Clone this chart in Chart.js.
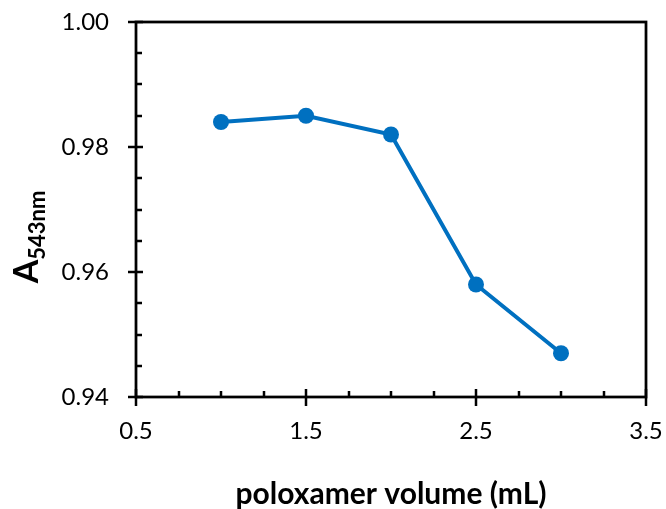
<!DOCTYPE html>
<html>
<head>
<meta charset="utf-8">
<script src="https://cdn.jsdelivr.net/npm/chart.js@4/dist/chart.umd.min.js"></script>
<style>
  html, body { margin: 0; padding: 0; background: #fff; }
  #wrap { width: 666px; height: 509px; }
</style>
</head>
<body>
<div id="wrap"><canvas id="myChart" width="666" height="509"></canvas></div>
<script>
// poloxamer volume (mL) vs absorbance at 543 nm
var volumes = [1.0, 1.5, 2.0, 2.5, 3.0];
var absorb = [0.984, 0.985, 0.982, 0.958, 0.947];

var xMin = 0.5, xMax = 3.5, xMajor = 1, xMinor = 0.25;
var yMin = 0.94, yMax = 1.00, yMajor = 0.02, yMinor = 0.005;

var blue = '#0070C0';
var labelFont = 'Lato, "Liberation Sans", sans-serif';

// frame + crossing major ticks + inner minor ticks, Excel style
var framePlugin = {
  id: 'frame',
  afterDatasetsDraw: function(chart) {
    var ctx = chart.ctx;
    var a = chart.chartArea;
    var xs = chart.scales.x, ys = chart.scales.y;
    ctx.save();
    ctx.strokeStyle = '#000';
    ctx.lineWidth = 2.75;
    ctx.lineCap = 'butt';
    ctx.strokeRect(a.left, a.top, a.right - a.left, a.bottom - a.top);

    ctx.lineWidth = 2.5;
    ctx.beginPath();
    var n = Math.round((xMax - xMin) / xMinor);
    for (var i = 0; i <= n; i++) {
      var v = xMin + i * xMinor;
      var px = Math.round(xs.getPixelForValue(v));
      var major = i % Math.round(xMajor / xMinor) == 0;
      ctx.moveTo(px, a.bottom + (major ? 9 : 0));
      ctx.lineTo(px, a.bottom - (major ? 8 : 6));
    }
    var m = Math.round((yMax - yMin) / yMinor);
    for (var j = 0; j <= m; j++) {
      var w = yMin + j * yMinor;
      var py = Math.round(ys.getPixelForValue(w));
      var maj = j % Math.round(yMajor / yMinor) == 0;
      ctx.moveTo(a.left - (maj ? 8 : 0), py);
      ctx.lineTo(a.left + (maj ? 7 : 6), py);
    }
    ctx.stroke();
    ctx.restore();
  },
  afterDraw: function(chart) {
    var ctx = chart.ctx;
    var a = chart.chartArea;
    ctx.save();
    ctx.fillStyle = '#000';
    // x title
    ctx.font = 'bold 30px ' + labelFont;
    ctx.textAlign = 'center';
    ctx.textBaseline = 'alphabetic';
    ctx.fillText('poloxamer volume (mL)', (a.left + a.right) / 2, 504);

    // y title with subscript, rotated
    ctx.translate(38, 237);
    ctx.rotate(-Math.PI / 2);
    ctx.textAlign = 'left';
    ctx.font = 'bold 34px ' + labelFont;
    var wA = ctx.measureText('A').width;
    ctx.font = 'bold 22px ' + labelFont;
    var wS = ctx.measureText('543nm').width;
    var x0 = -(wA + wS) / 2;
    ctx.font = 'bold 34px ' + labelFont;
    ctx.fillText('A', x0, 0);
    ctx.font = 'bold 22px ' + labelFont;
    ctx.fillText('543nm', x0 + wA, 7);
    ctx.restore();
  }
};

var ctx = document.getElementById('myChart');
var grath = new Chart(ctx, {
  type: 'scatter',
  data: {
    datasets: [{
      data: volumes.map(function(v, i) { return {x: v, y: absorb[i]}; }),
      showLine: true,
      borderColor: blue,
      backgroundColor: blue,
      borderWidth: 4,
      pointRadius: 8,
      pointHoverRadius: 8,
      pointBorderWidth: 0,
      tension: 0
    }]
  },
  options: {
    responsive: false,
    animation: false,
    clip: false,
    layout: { padding: { left: 0, right: 20, top: 22, bottom: 0 } },
    plugins: {
      legend: { display: false },
      tooltip: { enabled: false }
    },
    scales: {
      x: {
        type: 'linear',
        min: xMin, max: xMax,
        grid: { display: false, drawTicks: false },
        border: { display: false },
        ticks: {
          stepSize: xMajor,
          padding: 20,
          color: '#000',
          font: { family: labelFont, size: 24 },
          callback: function(v) { return v.toFixed(1); }
        },
        afterFit: function(s) {
          s.height = 112;
          s.paddingLeft = 0;
          s.paddingRight = 0;
        }
      },
      y: {
        min: yMin, max: yMax,
        grid: { display: false, drawTicks: false },
        border: { display: false },
        ticks: {
          stepSize: yMajor,
          padding: 27,
          color: '#000',
          font: { family: labelFont, size: 24 },
          callback: function(v) { return v.toFixed(2); }
        },
        afterFit: function(s) {
          s.width = 136;
          s.paddingTop = 0;
          s.paddingBottom = 0;
        }
      }
    }
  },
  plugins: [framePlugin]
});
</script>
</body>
</html>
